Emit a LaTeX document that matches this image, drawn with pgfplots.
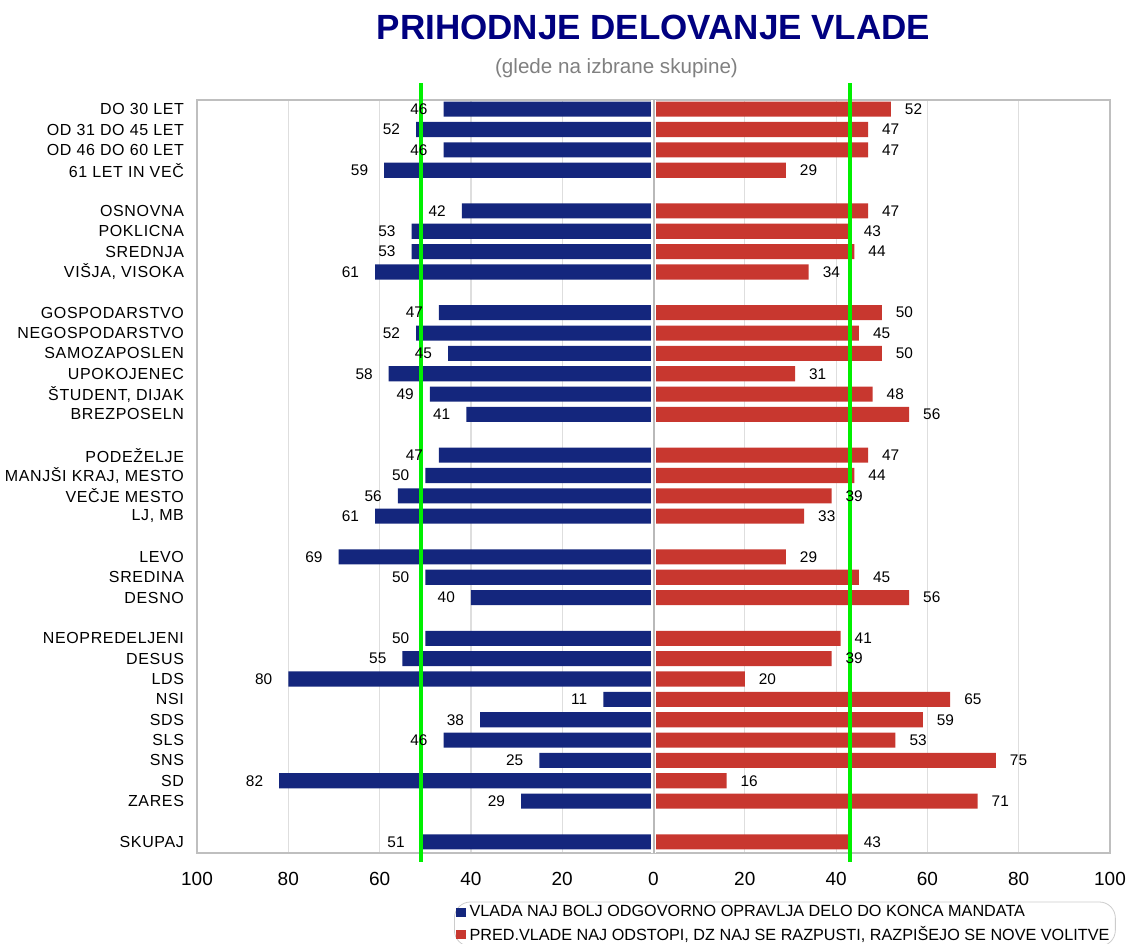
\documentclass[border=0pt]{standalone}
\usepackage{pgfplots}
\pgfplotsset{compat=1.18}
\usepackage{pgfplotstable}
\usepackage{fontspec}
\setmainfont{Liberation Sans}
\newfontfamily\lbl[LetterSpace=4]{Liberation Sans}

\definecolor{vladablue}{RGB}{20,38,125}
\definecolor{predred}{RGB}{200,55,47}
\definecolor{gridgray}{RGB}{222,222,222}
\definecolor{titleblue}{RGB}{0,0,128}
\definecolor{okgreen}{RGB}{0,240,0}

% y = row position from the top (gaps between groups), blue = VLADA, red = PRED.VLADE
\pgfplotstableread{
y  blue red
0  46   52
1  52   47
2  46   47
3  59   29
5  42   47
6  53   43
7  53   44
8  61   34
10 47   50
11 52   45
12 45   50
13 58   31
14 49   48
15 41   56
17 47   47
18 50   44
19 56   39
20 61   33
22 69   29
23 50   45
24 40   56
26 50   41
27 55   39
28 80   20
29 11   65
30 38   59
31 46   53
32 25   75
33 82   16
34 29   71
36 51   43
}\data

\pgfplotsset{
  sqlegend/.style={legend image code/.code={\fill[##1, sharp corners] (0pt,-2.3pt) rectangle (4.6pt,2.3pt);}},
}

\begin{document}
\begin{tikzpicture}
\begin{axis}[
  name=ax,
  scale only axis, width=456.5pt, height=376.5pt,
  xmin=-100, xmax=100, ymin=-0.45, ymax=36.55, y dir=reverse,
  clip=false,
  xtick={-100,-80,-60,-40,-20,0,20,40,60,80,100},
  xticklabels={100,80,60,40,20,0,20,40,60,80,100},
  xticklabel style={font=\fontsize{9.5}{11}\selectfont, yshift=-6pt},
  ytick={0,1,2,3,5,6,7,8,10,11,12,13,14,15,17,18,19,20,22,23,24,26,27,28,29,30,31,32,33,34,36},
  yticklabels={DO 30 LET, OD 31 DO 45 LET, OD 46 DO 60 LET, 61 LET IN VEČ,
    OSNOVNA, POKLICNA, SREDNJA, {VIŠJA, VISOKA},
    GOSPODARSTVO, NEGOSPODARSTVO, SAMOZAPOSLEN, UPOKOJENEC, {ŠTUDENT, DIJAK}, BREZPOSELN,
    PODEŽELJE, {MANJŠI KRAJ, MESTO}, VEČJE MESTO, {LJ, MB},
    LEVO, SREDINA, DESNO,
    NEOPREDELJENI, DESUS, LDS, NSI, SDS, SLS, SNS, SD, ZARES,
    SKUPAJ},
  yticklabel style={font=\lbl\fontsize{8}{10}\selectfont, xshift=-3pt},
  major tick length=0pt,
  xmajorgrids, major grid style={gridgray, line width=0.6pt},
  axis line style={gray!50, line width=0.8pt},
  /pgf/number format/assume math mode=true,
  legend style={at={(0.2815,-0.0645)}, anchor=north west, draw=gray!40,
    rounded corners=8pt, font=\fontsize{8.1}{9}\selectfont,
    inner xsep=1pt, inner ysep=0pt, row sep=0pt, nodes={inner ysep=1.6pt}},
  legend cell align=left,
]
\addplot[xbar, bar width=0.74, bar shift=0pt, fill=vladablue, draw=none, sqlegend,
  nodes near coords, point meta=explicit,
  every node near coord/.append style={font=\fontsize{7.7}{9}\selectfont, text=black, anchor=east, xshift=-4.5pt}]
  table[x expr=-\thisrow{blue}, y=y, meta=blue]{\data};
\addlegendentry{VLADA NAJ BOLJ ODGOVORNO OPRAVLJA DELO DO KONCA MANDATA}
\addplot[xbar, bar width=0.74, bar shift=0pt, fill=predred, draw=none, sqlegend,
  nodes near coords, point meta=explicit,
  every node near coord/.append style={font=\fontsize{7.7}{9}\selectfont, text=black, anchor=west, xshift=3.5pt}]
  table[x=red, y=y, meta=red]{\data};
\addlegendentry{PRED.VLADE NAJ ODSTOPI, DZ NAJ SE RAZPUSTI, RAZPIŠEJO SE NOVE VOLITVE}
% zero line
\addplot[forget plot, white, line width=2.6pt] coordinates {(0,-0.45) (0,36.55)};
\addplot[forget plot, gray!55, line width=1pt] coordinates {(0,-0.45) (0,36.55)};
% reference lines at SKUPAJ values
\addplot[forget plot, okgreen, line width=2pt] coordinates {(-51,-1.28) (-51,36.99)};
\addplot[forget plot, okgreen, line width=2pt] coordinates {(43,-1.28) (43,36.99)};
\end{axis}
\node[font=\bfseries\fontsize{17.5}{21}\selectfont, text=titleblue] at ([yshift=36.5pt]ax.north) {PRIHODNJE DELOVANJE VLADE};
\node[font=\fontsize{10.3}{12}\selectfont, text=gray] at ([xshift=-18.5pt,yshift=16pt]ax.north) {(glede na izbrane skupine)};
\pgfresetboundingbox
\path[use as bounding box] ([xshift=-98.5pt,yshift=-45pt]ax.south west) rectangle ([xshift=10.5pt,yshift=50pt]ax.north east);
\end{tikzpicture}
\end{document}
